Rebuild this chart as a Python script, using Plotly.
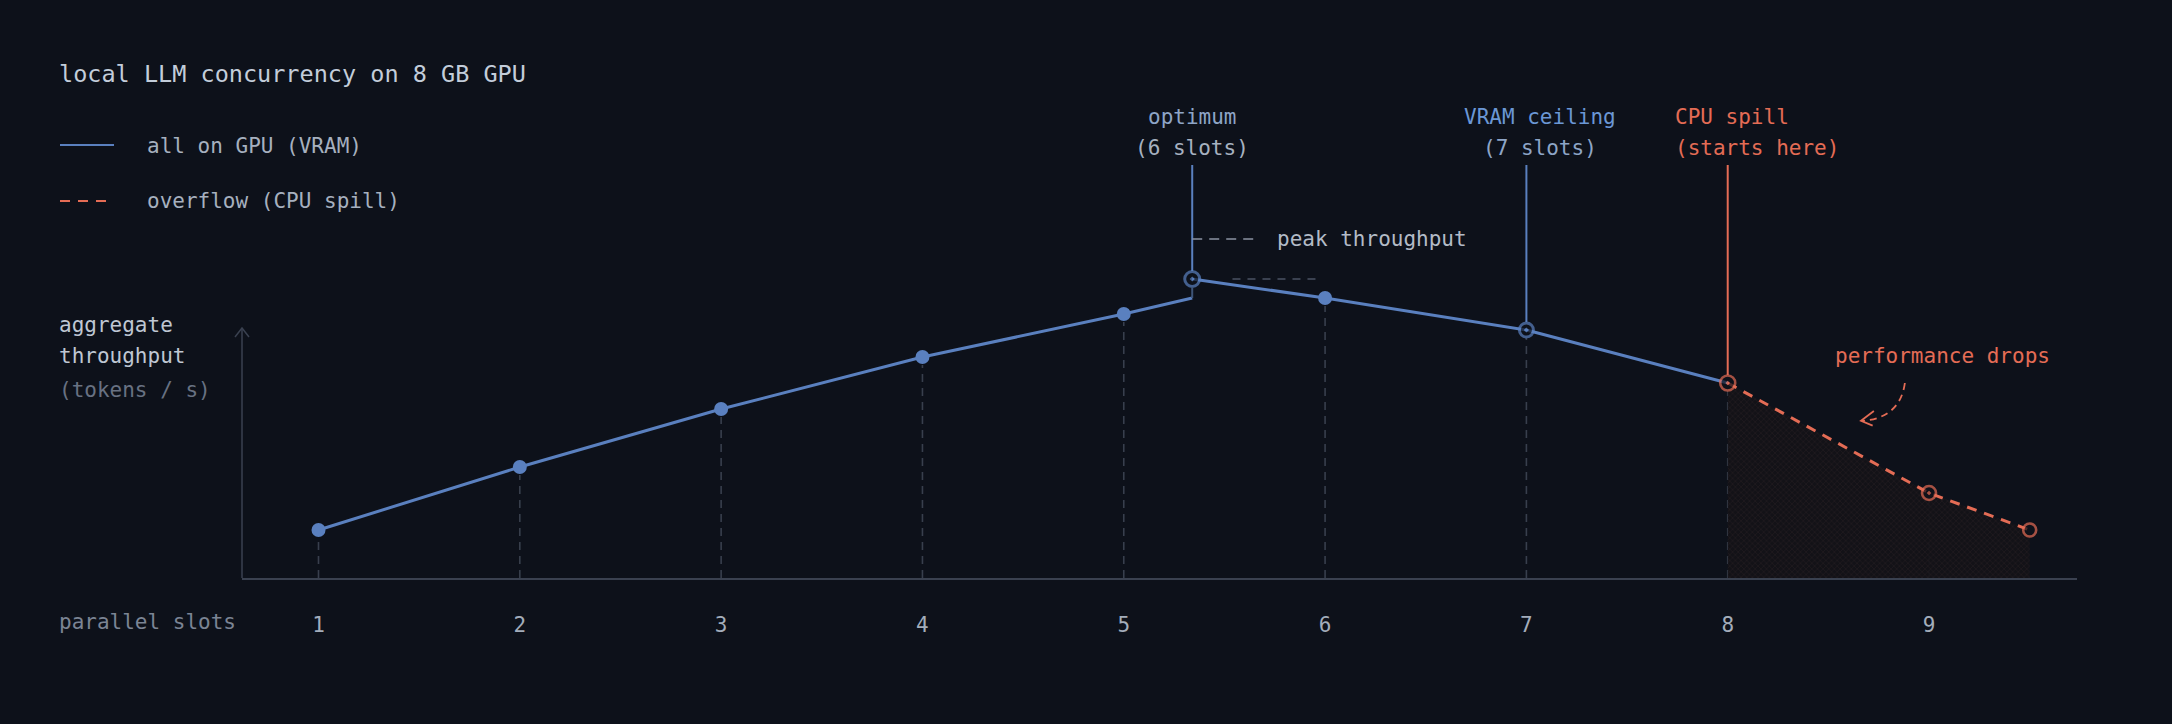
import plotly.graph_objects as go

# values (tokens / s, approximate)
gpu_slots = [1, 2, 3, 4, 5, 6, 7, 8]
gpu_tps = [24, 55.5, 84.5, 110.5, 132, 140, 124, 97.5]
peak_slot = 5.34
peak_tps = 149.5
ramp_end_tps = 140
spill_slots = [8, 9, 9.5]
spill_tps = [97.5, 42.5, 24]
slot_ticks = [1, 2, 3, 4, 5, 6, 7, 8, 9]

BG = '#0d111a'
BLUE = '#5a80bf'
RED = '#e46c55'
AXIS = '#3a4150'
DROP = '#383f4d'
FONT = 'DejaVu Sans Mono'

W, H = 2172, 724
L, R, T, B = 242, 2077, 40, 578


def xp(px):  # pixel -> paper x
    return (px - L) / (R - L)


def yp(py):  # pixel -> paper y
    return (B - py) / (B - T)


fig = go.Figure()

# shaded region under the spill part
fig.add_trace(go.Scatter(
    x=spill_slots, y=spill_tps, mode='none', fill='tozeroy',
    fillcolor='rgba(19,18,23,0.95)',
    fillpattern=dict(shape='x', fgcolor='rgba(150,100,100,0.22)', bgcolor='rgba(19,18,23,0.95)',
                     size=4, solidity=0.3),
    showlegend=False, hoverinfo='skip'
))

# ramp up to the peak
fig.add_trace(go.Scatter(
    x=gpu_slots[:5] + [peak_slot], y=gpu_tps[:5] + [ramp_end_tps],
    mode='lines', line=dict(color=BLUE, width=3), showlegend=False
))
# from the peak down to the spill point
fig.add_trace(go.Scatter(
    x=[peak_slot] + gpu_slots[5:], y=[peak_tps] + gpu_tps[5:],
    mode='lines', line=dict(color=BLUE, width=3), showlegend=False
))
# overflow
fig.add_trace(go.Scatter(
    x=spill_slots, y=spill_tps, mode='lines',
    line=dict(color=RED, width=3, dash='10px,8px'), showlegend=False
))

# markers
fig.add_trace(go.Scatter(
    x=gpu_slots[:6], y=gpu_tps[:6], mode='markers',
    marker=dict(color=BLUE, size=14), showlegend=False
))
fig.add_trace(go.Scatter(
    x=[peak_slot, gpu_slots[6]], y=[peak_tps, gpu_tps[6]], mode='markers',
    marker=dict(symbol='circle-dot', color=BG, size=[15, 14], line=dict(color=BLUE, width=3)),
    showlegend=False
))
fig.add_trace(go.Scatter(
    x=spill_slots, y=spill_tps, mode='markers',
    marker=dict(symbol=['circle-dot', 'circle-dot', 'circle'], color=BG, size=[15, 14, 13],
                line=dict(color=RED, width=2.6)),
    showlegend=False
))

shapes = []

# dashed drop lines
for sx, sy in list(zip(gpu_slots[:7], gpu_tps[:7])) + list(zip(spill_slots[:2], spill_tps[:2])):
    shapes.append(dict(type='line', xref='x', yref='y', x0=sx, x1=sx, y0=0, y1=sy - 4,
                       line=dict(color=DROP, width=1.6, dash='8px,6px'), layer='below'))

# y axis with open arrow
shapes.append(dict(type='line', xref='paper', yref='y', x0=0, x1=0, y0=0, y1=125,
                   line=dict(color=AXIS, width=1.5)))
shapes.append(dict(type='path', xref='paper', yref='y',
                   path=f'M {xp(235)},120.5 L 0,125 L {xp(249)},120.5',
                   line=dict(color=AXIS, width=1.5)))

# leaders from labels
shapes.append(dict(type='line', xref='x', yref='y', x0=peak_slot, x1=peak_slot, y0=peak_tps + 4, y1=206.5,
                   line=dict(color=BLUE, width=2)))
shapes.append(dict(type='line', xref='x', yref='y', x0=peak_slot, x1=peak_slot, y0=ramp_end_tps, y1=peak_tps - 4,
                   line=dict(color='#3d5477', width=2)))
shapes.append(dict(type='line', xref='x', yref='y', x0=7, x1=7, y0=gpu_tps[6] + 4, y1=206.5,
                   line=dict(color=BLUE, width=2)))
shapes.append(dict(type='line', xref='x', yref='y', x0=8, x1=8, y0=spill_tps[0] + 4, y1=206.5,
                   line=dict(color=RED, width=2)))

# peak level dashes and label leader
shapes.append(dict(type='line', xref='x', yref='y', x0=peak_slot + 0.2, x1=5.98, y0=peak_tps, y1=peak_tps,
                   line=dict(color='#4a5263', width=1.6, dash='8px,7px')))
shapes.append(dict(type='line', xref='x', yref='y', x0=peak_slot, x1=5.65, y0=169.5, y1=169.5,
                   line=dict(color='#8a93a3', width=1.6, dash='10px,7px')))

# curved arrow for "performance drops"
shapes.append(dict(type='path', xref='x', yref='y',
                   path='M 8.88,97.5 Q 8.856,80 8.667,78.5',
                   line=dict(color=RED, width=1.8, dash='7px,5px')))
shapes.append(dict(type='path', xref='x', yref='y',
                   path='M 8.726,83.5 L 8.662,78.6 L 8.72,76.2',
                   line=dict(color=RED, width=1.8)))

# legend samples
shapes.append(dict(type='line', xref='paper', yref='paper', x0=xp(60), x1=xp(114), y0=yp(145), y1=yp(145),
                   line=dict(color=BLUE, width=2.2)))
shapes.append(dict(type='line', xref='paper', yref='paper', x0=xp(60), x1=xp(114), y0=yp(201), y1=yp(201),
                   line=dict(color=RED, width=2.2, dash='10px,8px')))

annotations = []


def note(text, x, y, color, size=21, xanchor='center', ref='data'):
    r = dict(xref='x', yref='y') if ref == 'data' else dict(xref='paper', yref='paper')
    annotations.append(dict(text=text, x=x, y=y, showarrow=False, xanchor=xanchor, yanchor='middle',
                            font=dict(family=FONT, size=size, color=color), **r))


note('local LLM concurrency on 8 GB GPU', xp(57), yp(74), '#c3cdda', size=23.5, xanchor='left', ref='paper')
note('all on GPU (VRAM)', xp(145), yp(146), '#a6b0bf', xanchor='left', ref='paper')
note('overflow (CPU spill)', xp(145), yp(201), '#a6b0bf', xanchor='left', ref='paper')
note('aggregate', xp(57), yp(325), '#bfc7d3', xanchor='left', ref='paper')
note('throughput', xp(57), yp(356), '#bfc7d3', xanchor='left', ref='paper')
note('(tokens / s)', xp(57), yp(390), '#687182', xanchor='left', ref='paper')
note('parallel slots', xp(57), yp(622), '#7b8494', xanchor='left', ref='paper')

note('optimum', peak_slot, 230.5, '#8ea5c7')
note('(6 slots)', peak_slot, 215, '#a7b1c0')
note('VRAM ceiling', 7.07, 230.5, '#6b97d5')
note('(7 slots)', 7.07, 215, '#8ea5c7')
note('CPU spill', 7.73, 230.5, RED, xanchor='left')
note('(starts here)', 7.73, 215, RED, xanchor='left')
note('peak throughput', 5.75, 169.5, '#b3bbc7', xanchor='left')
note('performance drops', 9.065, 111, RED)

fig.update_layout(
    width=W, height=H,
    paper_bgcolor=BG, plot_bgcolor=BG,
    margin=dict(l=L, r=W - R, t=T, b=H - B),
    shapes=shapes, annotations=annotations,
    showlegend=False,
    xaxis=dict(range=[0.62, 9.735], showgrid=False, zeroline=False,
               showline=True, linecolor=AXIS, linewidth=1.5,
               tickvals=slot_ticks, ticks='outside', ticklen=27, tickcolor='rgba(0,0,0,0)',
               tickfont=dict(family=FONT, size=21, color='#a3adbb'), fixedrange=True),
    yaxis=dict(range=[0, 269], visible=False, fixedrange=True),
)

# no white page margin round the figure
fig.write_html("out.html", config={'displayModeBar': False},
               post_script="document.body.style.margin='0';document.body.style.background='" + BG + "';")
